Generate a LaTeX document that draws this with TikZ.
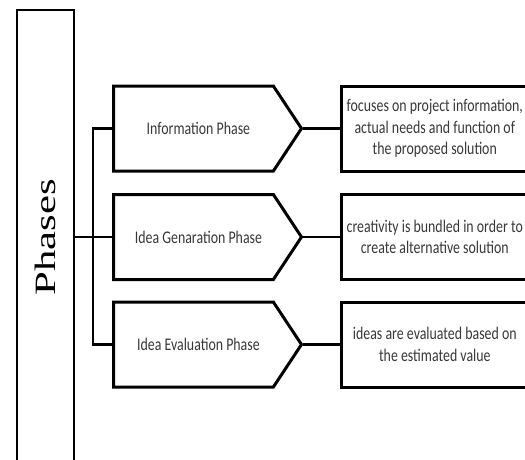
\documentclass[tikz,border=0pt]{standalone}
\usepackage{fontspec}
\setmainfont{Carlito}
\newfontfamily\labelfont[FakeStretch=0.78]{Carlito}
\newfontfamily\titlefont[FakeStretch=1.45]{Liberation Serif}
\usetikzlibrary{positioning, shapes.symbols}
\tikzset{
    phasebox/.style = {draw, line width=3pt, signal, signal to=east,
        signal pointer angle=113, minimum width=188pt, minimum height=85pt,
        inner sep=0pt, anchor=west, text=black!78,
        execute at begin node=\hspace*{10pt},
        font=\labelfont\fontsize{17.8}{21.5}\selectfont},
    descbox/.style = {draw, line width=3pt, minimum width=186pt,
        minimum height=85pt, inner sep=0pt, align=center, text=black!78,
        font=\labelfont\fontsize{17.8}{21.5}\selectfont},
    titlebox/.style = {draw, line width=2.2pt, minimum width=57pt,
        minimum height=455pt},
    link/.style = {line width=2.6pt} }

\begin{document}
\begin{tikzpicture}[x=1pt, y=-1pt, node distance=37pt]
      \useasboundingbox (0,0) rectangle (525,459);
      \node[titlebox] (phases) at (45.5,237.5)
          {\rotatebox{90}{\titlefont\fontsize{29.5}{29.5}\selectfont Phases}};
      \node[phasebox] (info) at (112,128.5) {Information Phase};
      \node[phasebox] (gen) at (112,237) {Idea Genaration Phase};
      \node[phasebox] (eval) at (112,344.5) {Idea Evaluation Phase};
      \node[descbox, right = of info] (infod)
          {focuses on project information,\\ actual needs and function of\\ the proposed solution};
      \node[descbox, right = of gen] (gend)
          {creativity is bundled in order to\\ create alternative solution};
      \node[descbox, right = of eval] (evald)
          {ideas are evaluated based on\\ the estimated value};
      % ----
      \coordinate (fork) at (93,237);
      \draw[link] (phases.east |- fork) -- (gen.west);
      \draw[link] (info.west) -| (fork) |- (eval.west);
      \draw[link] (info.east) -- (infod.west);
      \draw[link] (gen.east) -- (gend.west);
      \draw[link] (eval.east) -- (evald.west);
\end{tikzpicture}
\end{document}
